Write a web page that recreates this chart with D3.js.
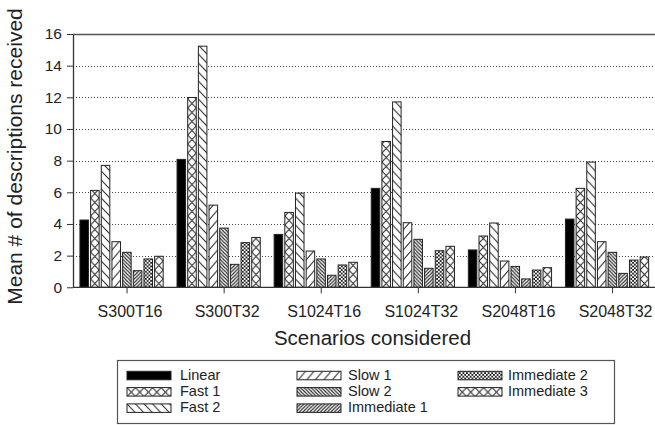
<!DOCTYPE html>
<html>
<head>
<meta charset="utf-8">
<script src="https://cdn.jsdelivr.net/npm/d3@7"></script>
<style>
  html, body { margin: 0; padding: 0; background: #fff; }
  svg { display: block; font-family: "Liberation Sans", Arial, sans-serif; }
</style>
</head>
<body>
<svg id="chart" width="655" height="425"></svg>
<script>
// ---------- DATA ----------
const categories = ["S300T16", "S300T32", "S1024T16", "S1024T32", "S2048T16", "S2048T32"];
const seriesNames = ["Linear", "Fast 1", "Fast 2", "Slow 1", "Slow 2", "Immediate 1", "Immediate 2", "Immediate 3"];
const linear     = [4.25, 8.08, 3.34, 6.25, 2.36, 4.31];
const fast1      = [6.12, 11.99, 4.73, 9.21, 3.24, 6.25];
const fast2      = [7.70, 15.23, 5.95, 11.71, 4.06, 7.91];
const slow1      = [2.88, 5.19, 2.29, 4.08, 1.66, 2.88];
const slow2      = [2.21, 3.74, 1.79, 3.03, 1.32, 2.21];
const immediate1 = [1.05, 1.45, 0.76, 1.20, 0.53, 0.88];
const immediate2 = [1.79, 2.82, 1.41, 2.31, 1.09, 1.72];
const immediate3 = [1.96, 3.15, 1.58, 2.59, 1.24, 1.91];
const yTicks = [0, 2, 4, 6, 8, 10, 12, 14, 16];
const xTitle = "Scenarios considered";
const yTitle = "Mean # of descriptions received";

const seriesValues = [linear, fast1, fast2, slow1, slow2, immediate1, immediate2, immediate3];
const patternKeys = ["solid", "wideX", "wideBack", "wideFwd", "narrowBack", "narrowFwd", "smallX", "wideX"];

// ---------- LAYOUT ----------
const plot = { left: 73, right: 655.6, top: 34, bottom: 287.3 };
const tickShift = 5.5;
const ink = "#222";
const lineCol = "#333";

const svg = d3.select("#chart");

const x = d3.scaleBand().domain(categories).range([plot.left, plot.right]).padding(0);
const xInner = d3.scaleBand().domain(seriesNames).range([0, x.bandwidth()])
  .paddingInner(0.2).paddingOuter(0.65);
const y = d3.scaleLinear().domain([0, 16]).range([plot.bottom, plot.top]);

// ---------- PATTERNS ----------
const defs = svg.append("defs");
const bw = xInner.bandwidth();

function diagPath(w, h, dir) {
  let p = "";
  for (const k of [-1, 0, 1]) {
    if (dir === "back") {
      p += `M${k * w - w},${-h}L${k * w + 2 * w},${2 * h}`;
    } else {
      p += `M${k * w - w},${2 * h}L${k * w + 2 * w},${-h}`;
    }
  }
  return p;
}
function addPattern(id, w, h, dirs, sw) {
  const p = defs.append("pattern").attr("id", id)
    .attr("patternUnits", "userSpaceOnUse")
    .attr("width", w).attr("height", h);
  p.append("rect").attr("width", w).attr("height", h).attr("fill", "#fff");
  dirs.forEach(d => p.append("path").attr("d", diagPath(w, h, d))
    .attr("stroke", ink).attr("stroke-width", sw).attr("fill", "none"));
}
addPattern("wideX", bw, 9, ["back", "fwd"], 1);
addPattern("wideBack", bw, 9, ["back"], 1);
addPattern("wideFwd", bw, 10, ["fwd"], 1);
addPattern("narrowBack", 3.5, 3.5, ["back"], 1.1);
addPattern("narrowFwd", 3.5, 3.5, ["fwd"], 1.1);
addPattern("smallX", 3.6, 3.6, ["back", "fwd"], 0.9);

function fillFor(key) { return key === "solid" ? "#000" : `url(#${key})`; }

// ---------- GRID ----------
const grid = svg.append("g");
grid.selectAll("line.g").data(yTicks.filter(t => t > 0 && t < 16)).join("line")
  .attr("x1", plot.left).attr("x2", plot.right)
  .attr("y1", d => Math.round(y(d)) + 0.5).attr("y2", d => Math.round(y(d)) + 0.5)
  .attr("stroke", "#444").attr("stroke-width", 1).attr("stroke-dasharray", "1,2");
grid.append("line")
  .attr("x1", plot.left).attr("x2", plot.right)
  .attr("y1", Math.round(y(16)) + 0.5).attr("y2", Math.round(y(16)) + 0.5)
  .attr("stroke", "#555").attr("stroke-width", 1.3);

// ---------- BARS ----------
const barsG = svg.append("g");
categories.forEach((c, ci) => {
  seriesNames.forEach((s, si) => {
    const v = seriesValues[si][ci];
    const bx = x(c) + xInner(s);
    const g = barsG.append("g").attr("transform", `translate(${bx},0)`);
    g.append("rect")
      .attr("x", 0).attr("y", y(v))
      .attr("width", bw).attr("height", y(0) - y(v))
      .attr("fill", fillFor(patternKeys[si]))
      .attr("stroke", ink).attr("stroke-width", 1);
  });
});

// ---------- AXES ----------
const yAxis = d3.axisLeft(y).tickValues(yTicks).tickSize(6).tickSizeOuter(0).tickPadding(5);
const yg = svg.append("g").attr("transform", `translate(${plot.left},0)`).call(yAxis);
yg.select(".domain").attr("stroke", lineCol).attr("stroke-width", 1.3);
yg.selectAll(".tick line").attr("stroke", lineCol);
yg.selectAll(".tick text").attr("font-size", 15.5).attr("fill", ink)
  .attr("font-family", "Liberation Sans, Arial, sans-serif");

const xTickScale = x.copy().range([plot.left + tickShift, plot.right + tickShift]);
const xAxis = d3.axisBottom(xTickScale).tickSize(6).tickSizeOuter(0).tickPadding(12);
const xg = svg.append("g").attr("transform", `translate(0,${plot.bottom})`).call(xAxis);
xg.select(".domain").remove();
xg.selectAll(".tick line").attr("stroke", lineCol);
xg.selectAll(".tick text").attr("font-size", 16).attr("fill", ink).attr("dx", 3)
  .attr("font-family", "Liberation Sans, Arial, sans-serif");
svg.append("line")
  .attr("x1", plot.left).attr("x2", plot.right)
  .attr("y1", plot.bottom).attr("y2", plot.bottom)
  .attr("stroke", lineCol).attr("stroke-width", 1.3);

// ---------- TITLES ----------
svg.append("text").attr("x", 372.5).attr("y", 345)
  .attr("text-anchor", "middle").attr("font-size", 20.5).attr("fill", ink).text(xTitle);
svg.append("text")
  .attr("transform", "translate(22,156.5) rotate(-90)")
  .attr("text-anchor", "middle").attr("font-size", 21).attr("fill", ink).text(yTitle);

// ---------- LEGEND ----------
const lg = svg.append("g");
lg.append("rect").attr("x", 117.5).attr("y", 360.5).attr("width", 497).attr("height", 63)
  .attr("fill", "#fff").attr("stroke", "#555").attr("stroke-width", 1.2);
const colX = [127, 297, 458];
const textX = [180, 348, 508];
const rowBase = [379.8, 396.1, 412.4];
seriesNames.forEach((s, i) => {
  const col = Math.floor(i / 3), row = i % 3;
  const g = lg.append("g").attr("transform", `translate(${colX[col]},${rowBase[row] - 8.5})`);
  g.append("rect").attr("x", 0).attr("y", 0).attr("width", 44).attr("height", 8.5)
    .attr("fill", fillFor(patternKeys[i])).attr("stroke", ink).attr("stroke-width", 1);
  lg.append("text").attr("x", textX[col]).attr("y", rowBase[row])
    .attr("font-size", 14.5).attr("fill", ink).text(s);
});
</script>
</body>
</html>
